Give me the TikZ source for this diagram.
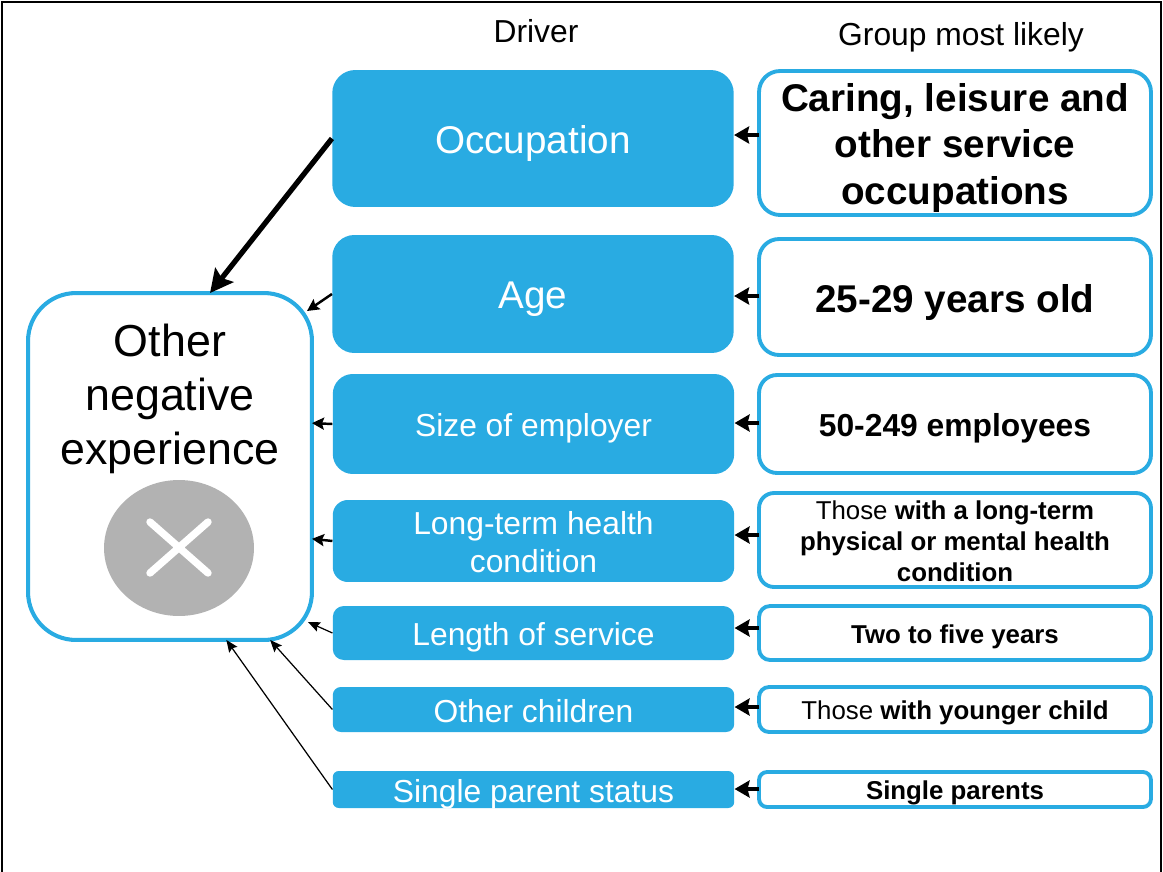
\documentclass[tikz,border=0pt]{standalone}
\usepackage{fontspec}
\setmainfont{Liberation Sans}
\usetikzlibrary{arrows.meta,shapes.geometric}
\definecolor{driverblue}{HTML}{29ABE2}
\begin{document}
\begin{tikzpicture}
  [x=0.02cm,y=-0.02cm,
   big/.style={font=\fontsize{22}{27}\selectfont,text height=17.2pt,text depth=0pt},
   mid/.style={font=\fontsize{18.1}{21.5}\selectfont,text height=14.4pt,text depth=0pt},
   small/.style={font=\fontsize{14.7}{17.5}\selectfont,text height=11.6pt,text depth=0pt},
   driver/.style={rectangle,fill=driverblue,text=white,align=center,inner sep=0pt,minimum width=8.03cm},
   group/.style={rectangle,draw=driverblue,line width=2.2pt,fill=white,align=center,inner sep=0pt,minimum width=7.84cm,outer sep=0pt},
   thickarr/.style={-{Stealth[length=0.46cm,width=0.46cm,inset=0.08cm]},line width=3pt},
   medarr/.style={-{Stealth[length=0.24cm,width=0.24cm,inset=0.04cm]},line width=1.4pt},
   thinarr/.style={-{Stealth[length=0.24cm,width=0.2cm,inset=0.04cm]},line width=0.7pt},
   rightarr/.style={-{Stealth[length=0.3cm,width=0.34cm,inset=0.04cm]},line width=2.2pt}]
    \useasboundingbox (0,0) rectangle (1163,872);
    \draw[line width=1.5pt] (2,872) -- (2,2) -- (1161,2) -- (1161,872);

    \node (driverhead) [font=\fontsize{18.1}{21.5}\selectfont] at (536,31) {Driver};
    \node (grouphead)  [font=\fontsize{18.1}{21.5}\selectfont] at (961,37) {Group most likely};

    \node (occ)    [driver,big,rounded corners=0.46cm,minimum height=2.74cm] at (533,138.5) {Occupation};
    \node (age)    [driver,big,text height=16.8pt,rounded corners=0.44cm,minimum height=2.36cm] at (533,294)   {Age};
    \node (size)   [driver,mid,rounded corners=0.4cm,minimum height=2.00cm] at (533.5,424) {Size of employer};
    \node (health) [driver,mid,text height=36pt,rounded corners=0.3cm,minimum height=1.64cm] at (533.5,541) {Long-term health\\condition};
    \node (length) [driver,mid,rounded corners=0.22cm,minimum height=1.08cm] at (533.5,633) {Length of service};
    \node (child)  [driver,mid,rounded corners=0.16cm,minimum height=0.90cm] at (533.5,709.5) {Other children};
    \node (single) [driver,mid,rounded corners=0.12cm,minimum height=0.74cm] at (533.5,789.5) {Single parent status};

    \node (occg)    [group,rounded corners=0.42cm,minimum height=2.88cm,text height=70pt,text depth=0pt,font=\fontsize{22}{26.6}\selectfont\bfseries] at (955,143) {Caring, leisure and\\other service\\occupations};
    \node (ageg)    [group,big,rounded corners=0.4cm,minimum height=2.32cm,font=\fontsize{22}{27}\selectfont\bfseries] at (955,297) {25-29 years old};
    \node (sizeg)   [group,mid,rounded corners=0.36cm,minimum height=1.96cm,font=\fontsize{18.1}{21.5}\selectfont\bfseries] at (955,424) {50-249 employees};
    \node (healthg) [group,small,text height=47pt,rounded corners=0.3cm,minimum height=1.88cm] at (955,540) {Those \textbf{with a long-term}\\\textbf{physical or mental health}\\\textbf{condition}};
    \node (lengthg) [group,small,rounded corners=0.22cm,minimum height=1.08cm] at (955,633) {\textbf{Two to five years}};
    \node (childg)  [group,small,rounded corners=0.2cm,minimum height=0.90cm] at (955,709.5) {Those \textbf{with younger child}};
    \node (singleg) [group,small,rounded corners=0.16cm,minimum height=0.70cm] at (955,789.5) {\textbf{Single parents}};

    \node (other) [rectangle,rounded corners=0.96cm,draw=driverblue,line width=2.3pt,inner sep=0pt,minimum width=5.68cm,minimum height=6.94cm,outer sep=0pt] at (170,466.5) {};
    \node (othertext) [font=\fontsize{25.5}{30.8}\selectfont,align=center] at (170,399) {Other\\negative\\experience};
    \node (mark) [ellipse,fill=black!30,inner sep=0pt,minimum width=3cm,minimum height=2.72cm] at (179,548) {};
    \draw[white,line width=4.2pt,line cap=round] (150,522) -- (208,573) (150,573) -- (208,522);

    \coordinate (agetip) at (307,311);
    \coordinate (lengthtip) at (308,622);

    \draw[thickarr] (occ.west) -- (other.77.5);
    \draw[medarr] (age.west) -- (agetip);
    \draw[medarr] (size.west) -- (other.17);
    \draw[medarr] (health.west) -- (other.-27.7);
    \draw[thinarr] (length.west) -- (lengthtip);
    \draw[thinarr] (child.west) -- (other.-60);
    \draw[thinarr] (single.west) -- (other.-72);

    \foreach \from/\to/\y in {occg/occ/135,ageg/age/296,sizeg/size/423,healthg/health/535,lengthg/length/628,childg/child/707,singleg/single/789}
      \draw[rightarr] (\from.west |- 0,\y) -- (\to.east |- 0,\y);
  \end{tikzpicture}
\end{document}
